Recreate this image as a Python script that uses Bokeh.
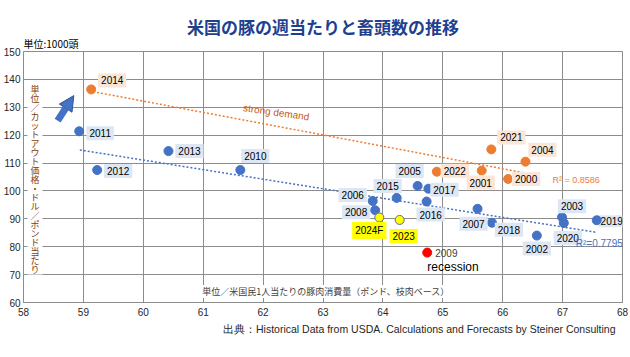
from bokeh.plotting import figure
from bokeh.models import Label, Arrow, NormalHead, ColumnDataSource, FixedTicker, Range1d, Title, BoxAnnotation
from bokeh.embed import file_html
from bokeh.resources import INLINE

# ---- data ----
years = ["2014", "2011", "2012", "2013", "2010", "2021", "2004", "2022", "2001", "2000",
         "2005", "2017", "2006", "2015", "2016", "2008", "2024F", "2023", "2007", "2018",
         "2002", "2003", "2020", "2019", "2009"]
consumption = [59.13, 58.93, 59.23, 60.42, 61.62, 65.81, 66.38, 64.90, 65.65, 66.09,
               64.58, 64.76, 63.83, 64.23, 64.73, 63.87, 63.94, 64.28, 65.58, 65.82,
               66.57, 66.99, 67.02, 67.57, 64.74]
price = [136.4, 121.4, 107.5, 114.3, 107.5, 114.9, 110.5, 106.9, 107.3, 104.3,
         101.8, 100.8, 96.4, 97.5, 96.2, 93.1, 90.5, 89.6, 93.6, 88.6,
         84.0, 90.6, 88.5, 89.5, 77.9]
group = ["strong", "normal", "normal", "normal", "normal", "strong", "strong", "strong", "strong", "strong",
         "normal", "normal", "normal", "normal", "normal", "normal", "forecast", "forecast", "normal", "normal",
         "normal", "normal", "normal", "normal", "recession"]

blue_trend_x = [58.94, 67.58]
blue_trend_y = [114.7, 85.1]
orange_trend_x = [59.16, 66.36]
orange_trend_y = [135.6, 106.5]
r2_strong = "R² = 0.8586"
r2_normal = "R²=0.7795"

x_ticks = [58, 59, 60, 61, 62, 63, 64, 65, 66, 67, 68]
y_ticks = [60, 70, 80, 90, 100, 110, 120, 130, 140, 150]

title_text = "米国の豚の週当たりと畜頭数の推移"
unit_text = "単位:1000頭"
y_title = "単位／カットアウト価格・ドル／ポンド当たり"
x_title = "単位／米国民1人当たりの豚肉消費量（ポンド、枝肉ベース）"
source_text = "出典：Historical Data from USDA. Calculations and Forecasts by Steiner Consulting"

# ---- styling / layout ----
BLUE = "#4472C4"
ORANGE = "#ED7D31"
point_color = {"normal": BLUE, "strong": ORANGE, "forecast": "#FFFF00", "recession": "#FF0000"}
point_line = {"normal": BLUE, "strong": ORANGE, "forecast": "#5B6E9A", "recession": "#FF0000"}
label_bg = {"normal": "#DDE7F3", "strong": "#FBE5D6", "forecast": "#FFFF00", "recession": None}
# label offsets in pixels (dx right, dy down)
label_offsets = {
    "2014": (21, -9), "2011": (21, 2), "2012": (21, 1), "2013": (21, 0), "2010": (15, -14),
    "2021": (20, -12), "2004": (17, -12), "2022": (18, -1), "2001": (-1, 12), "2000": (18, 0),
    "2005": (-8, -15), "2017": (16, 1), "2006": (-20, -6), "2015": (-9, -12), "2016": (4, 13),
    "2008": (-19, 2), "2024F": (-10, 13), "2023": (4, 16), "2007": (-4, 15), "2018": (17, 7),
    "2002": (0, 13), "2003": (10, -11), "2020": (4, 15), "2019": (15, 1), "2009": (8, 0),
}
narrow_labels = {"2019"}  # label next to the frame edge: tighter box, drawn beneath the points

LAT = "Liberation Sans"
JP = "Noto Sans CJK JP"

p = figure(width=630, height=357, output_backend="svg", toolbar_location=None,
           x_range=Range1d(58, 68), y_range=Range1d(60, 150),
           min_border_left=23, min_border_right=8, min_border_top=51, min_border_bottom=55)
p.background_fill_color = "white"
p.border_fill_color = "white"
p.outline_line_color = "#8C8C8C"

p.xaxis.ticker = FixedTicker(ticks=x_ticks)
p.yaxis.ticker = FixedTicker(ticks=y_ticks)
for ax in (p.xaxis, p.yaxis):
    ax.axis_line_color = "#8C8C8C"
    ax.major_tick_line_color = None
    ax.minor_tick_line_color = None
    ax.major_tick_out = 0
    ax.major_tick_in = 0
    ax.minor_tick_out = 0
    ax.minor_tick_in = 0
    ax.major_label_text_font = LAT
    ax.major_label_text_font_size = "10px"
    ax.major_label_text_color = "#262626"
p.xaxis.major_label_standoff = 5
p.yaxis.major_label_standoff = 3
p.grid.grid_line_color = "#8C8C8C"
p.grid.grid_line_width = 1

# titles outside the frame
p.add_layout(Title(text=unit_text, align="left", text_font=JP, text_font_size="10px",
                   text_font_style="normal", text_color="black", standoff=1), "above")
p.title = Title(text=title_text, align="center", text_font=JP, text_font_size="17px",
                text_font_style="bold", text_color="#1F3F8F", standoff=-10, offset=-8)
p.add_layout(Title(text=source_text, align="right", text_font=LAT,
                   text_font_size="10.5px", text_font_style="normal", text_color="#262626",
                   offset=7, standoff=4), "below")

# white panel behind the vertical y title
p.add_layout(BoxAnnotation(left=58.067, right=58.317, top=139.6, bottom=70.0,
                           fill_color="white", fill_alpha=1.0, line_color=None))

# point labels (added before the points so edge labels can sit beneath them)
for yr, xv, yv, g in zip(years, consumption, price, group):
    dx, dy = label_offsets[yr]
    if g == "recession":
        p.add_layout(Label(x=xv, y=yv, text=yr, x_offset=dx, y_offset=-dy,
                           text_align="left", text_baseline="middle",
                           text_font=LAT, text_font_size="10px", text_color="#404040"))
    elif yr in narrow_labels:
        p.add_layout(Label(x=xv, y=yv, text=yr, x_offset=dx, y_offset=-dy,
                           text_align="center", text_baseline="middle",
                           text_font=LAT, text_font_size="10px", text_color="black",
                           background_fill_color=label_bg[g], padding=2, level="underlay"))
    else:
        p.add_layout(Label(x=xv, y=yv, text=yr, x_offset=dx, y_offset=-dy,
                           text_align="center", text_baseline="middle",
                           text_font=LAT, text_font_size="10px", text_color="black",
                           background_fill_color=label_bg[g], padding=3))

# trend lines
p.line(orange_trend_x, orange_trend_y, line_color=ORANGE, line_width=1.5, line_dash="2 2")
p.line(blue_trend_x, blue_trend_y, line_color=BLUE, line_width=1.5, line_dash="2 2")

# points
src = ColumnDataSource(dict(
    x=consumption, y=price, year=years,
    fill=[point_color[g] for g in group],
    line=[point_line[g] for g in group],
))
p.scatter("x", "y", source=src, size=9, fill_color="fill", line_color="line", line_width=1)

# annotations
p.add_layout(Label(x=65.17, y=72.9, text="recession", text_align="center", text_baseline="middle",
                   text_font=LAT, text_font_size="12px", text_color="black"))
p.add_layout(Label(x=62.22, y=128.2, text="strong demand", angle=-0.14, text_align="center",
                   text_baseline="middle", text_font=LAT, text_font_size="10px", text_color="#C55A11"))
p.add_layout(Label(x=66.83, y=103.9, text=r2_strong, text_align="left", text_baseline="middle",
                   text_font=LAT, text_font_size="9px", text_color=ORANGE))
p.add_layout(Label(x=67.22, y=81.1, text=r2_normal, text_align="left", text_baseline="middle",
                   text_font=LAT, text_font_size="10px", text_color=BLUE))

p.add_layout(Arrow(end=NormalHead(size=15, fill_color=BLUE, line_color="#2F5597"),
                   x_start=58.57, y_start=125.2, x_end=58.84, y_end=134.2,
                   line_color=BLUE, line_width=7))

# vertical y title, one character per line
for i, ch in enumerate(y_title):
    p.add_layout(Label(x=58.19, y=138.8, text=ch, y_offset=-9 * i, text_align="center",
                       text_baseline="top", text_font=JP, text_font_size="9px",
                       text_color="#843C0C"))

p.add_layout(Label(x=63.05, y=63.9, text=x_title, text_align="center", text_baseline="middle",
                   text_font=JP, text_font_size="9px", text_color="#404040",
                   background_fill_color="white"))

open("out.html", "w").write(file_html(p, INLINE))
